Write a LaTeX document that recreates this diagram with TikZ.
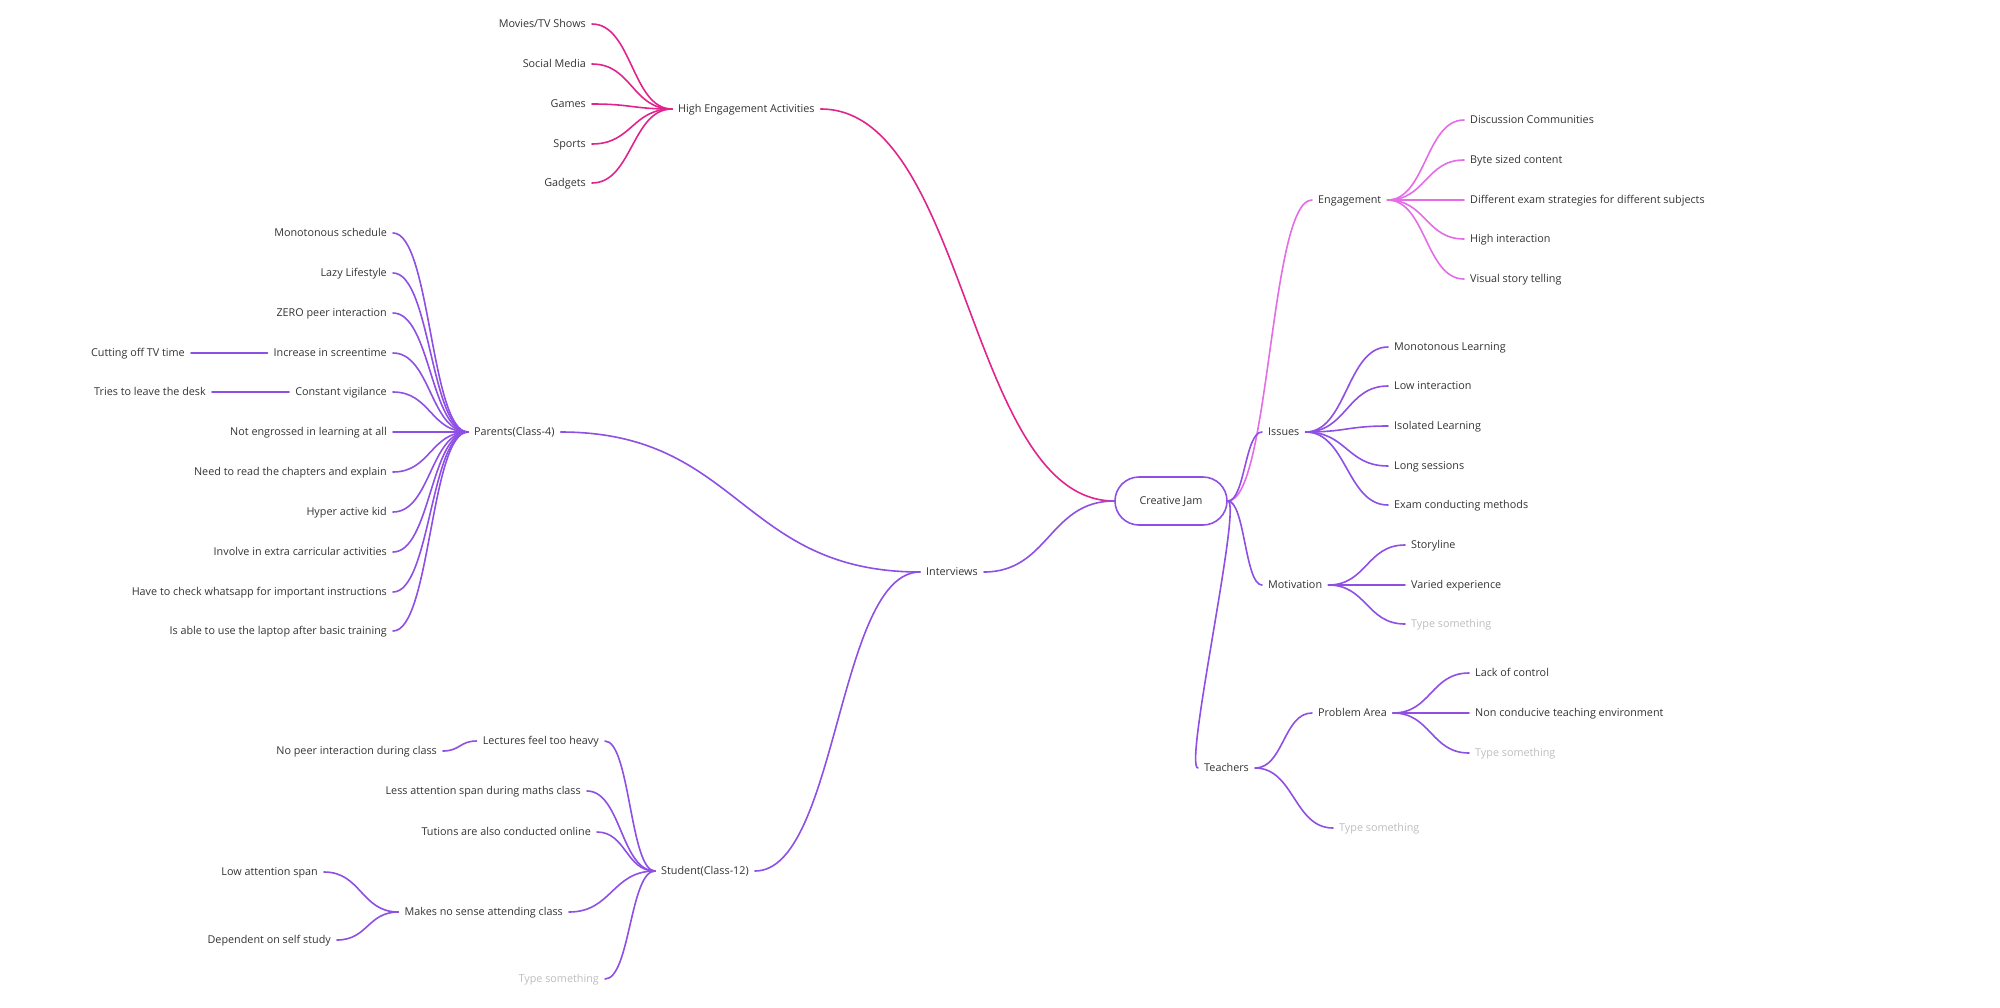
\documentclass[tikz,border=0pt]{standalone}
\usepackage{fontspec}
\setmainfont{Open Sans}
\usetikzlibrary{calc}
\definecolor{txtgrey}{HTML}{333333}
\definecolor{hintgrey}{HTML}{BDBDBD}
\definecolor{pinkl}{HTML}{E0248C}
\definecolor{orchidl}{HTML}{E46CE6}
\definecolor{violetl}{HTML}{8E4FE4}
\tikzset{
  lbl/.style={text=txtgrey,font=\fontsize{10.8}{12}\selectfont,inner xsep=6pt,inner ysep=2pt,text height=9pt,text depth=1.6pt},
  lleaf/.style={lbl,anchor=east},
  rleaf/.style={lbl,anchor=west},
  ghost/.style={text=hintgrey},
  br/.style={line width=1.6pt,line cap=round},
  rbr/.style={to path={let \p1=(\tikztostart),\p2=(\tikztotarget),\n1={abs(\x2-\x1)/2} in
    .. controls ({\x1+\n1*1pt},\y1) and ({\x2-\n1*1pt},\y2) .. (\tikztotarget)}},
  lbr/.style={to path={let \p1=(\tikztostart),\p2=(\tikztotarget),\n1={abs(\x2-\x1)/2} in
    .. controls ({\x1-\n1*1pt},\y1) and ({\x2+\n1*1pt},\y2) .. (\tikztotarget)}}
}
\begin{document}
\begin{tikzpicture}[x=1pt,y=-1pt]
	\useasboundingbox (0,0) rectangle (2000,1007);
	% centre
	\node[lbl,draw=violetl,line width=1.6pt,rounded corners=24pt,minimum width=112pt,minimum height=48pt] (jam) at (1171,501) {Creative Jam};
	% left side
	\node[lbl,anchor=west] (hea) at (672,109) {High Engagement Activities};
	\node[lleaf] (movies) at (592,24) {Movies/TV Shows};
	\node[lleaf] (social) at (592,64) {Social Media};
	\node[lleaf] (games) at (592,104) {Games};
	\node[lleaf] (sports) at (592,144) {Sports};
	\node[lleaf] (gadgets) at (592,183) {Gadgets};
	\node[lbl,anchor=west] (interviews) at (920,572) {Interviews};
	\node[lbl,anchor=west] (parents) at (468,432) {Parents(Class-4)};
	\node[lleaf] (p1) at (393,233) {Monotonous schedule};
	\node[lleaf] (p2) at (393,273) {Lazy Lifestyle};
	\node[lleaf] (p3) at (393,313) {ZERO peer interaction};
	\node[lleaf] (p4) at (393,353) {Increase in screentime};
	\node[lleaf] (p5) at (393,392) {Constant vigilance};
	\node[lleaf] (p6) at (393,432) {Not engrossed in learning at all};
	\node[lleaf] (p7) at (393,472) {Need to read the chapters and explain};
	\node[lleaf] (p8) at (393,512) {Hyper active kid};
	\node[lleaf] (p9) at (393,552) {Involve in extra carricular activities};
	\node[lleaf] (p10) at (393,592) {Have to check whatsapp for important instructions};
	\node[lleaf] (p11) at (393,631) {Is able to use the laptop after basic training};
	\node[lleaf] (tvtime) at (191,353) {Cutting off TV time};
	\node[lleaf] (desk) at (212,392) {Tries to leave the desk};
	\node[lbl,anchor=west] (student) at (655,871) {Student(Class-12)};
	\node[lleaf] (s1) at (605,741) {Lectures feel too heavy};
	\node[lleaf] (s2) at (587,791) {Less attention span during maths class};
	\node[lleaf] (s3) at (597,832) {Tutions are also conducted online};
	\node[lleaf] (s4) at (569,912) {Makes no sense attending class};
	\node[lleaf,ghost] (s5) at (605,979) {Type something};
	\node[lleaf] (nopeer) at (443,751) {No peer interaction during class};
	\node[lleaf] (lowspan) at (324,872) {Low attention span};
	\node[lleaf] (selfstudy) at (337,940) {Dependent on self study};
	% right side
	\node[rleaf] (engage) at (1312,200) {Engagement};
	\node[rleaf] (e1) at (1464,120) {Discussion Communities};
	\node[rleaf] (e2) at (1464,160) {Byte sized content};
	\node[rleaf] (e3) at (1464,200) {Different exam strategies for different subjects};
	\node[rleaf] (e4) at (1464,239) {High interaction};
	\node[rleaf] (e5) at (1464,279) {Visual story telling};
	\node[rleaf] (issues) at (1262,432) {Issues};
	\node[rleaf] (i1) at (1388,347) {Monotonous Learning};
	\node[rleaf] (i2) at (1388,386) {Low interaction};
	\node[rleaf] (i3) at (1388,426) {Isolated Learning};
	\node[rleaf] (i4) at (1388,466) {Long sessions};
	\node[rleaf] (i5) at (1388,505) {Exam conducting methods};
	\node[rleaf] (motiv) at (1262,585) {Motivation};
	\node[rleaf] (m1) at (1405,545) {Storyline};
	\node[rleaf] (m2) at (1405,585) {Varied experience};
	\node[rleaf,ghost] (m3) at (1405,624) {Type something};
	\node[rleaf] (teach) at (1198,768) {Teachers};
	\node[rleaf] (problem) at (1312,713) {Problem Area};
	\node[rleaf] (t1) at (1469,673) {Lack of control};
	\node[rleaf] (t2) at (1469,713) {Non conducive teaching environment};
	\node[rleaf,ghost] (t3) at (1469,753) {Type something};
	\node[rleaf,ghost] (t4) at (1333,828) {Type something};
	% connectors
	\draw[br,pinkl] (jam.west) to[lbr] (hea.east);
	\foreach \c in {movies,social,games,sports,gadgets}
		\draw[br,pinkl] (hea.west) to[lbr] (\c.east);
	\draw[br,violetl] (jam.west) to[lbr] (interviews.east);
	\draw[br,violetl] (interviews.west) to[lbr] (parents.east);
	\draw[br,violetl] (interviews.west) to[lbr] (student.east);
	\foreach \c in {p1,p2,p3,p4,p5,p6,p7,p8,p9,p10,p11}
		\draw[br,violetl] (parents.west) to[lbr] (\c.east);
	\draw[br,violetl] (p4.west) -- (tvtime.east);
	\draw[br,violetl] (p5.west) -- (desk.east);
	\foreach \c in {s1,s2,s3,s4,s5}
		\draw[br,violetl] (student.west) to[lbr] (\c.east);
	\draw[br,violetl] (s1.west) to[lbr] (nopeer.east);
	\draw[br,violetl] (s4.west) to[lbr] (lowspan.east);
	\draw[br,violetl] (s4.west) to[lbr] (selfstudy.east);
	\draw[br,orchidl] (jam.east) to[rbr] (engage.west);
	\foreach \c in {e1,e2,e3,e4,e5}
		\draw[br,orchidl] (engage.east) to[rbr] (\c.west);
	\draw[br,violetl] (jam.east) to[rbr] (issues.west);
	\draw[br,violetl] (jam.east) to[rbr] (motiv.west);
	\draw[br,violetl] (jam.east) to[rbr] (teach.west);
	\foreach \c in {i1,i2,i3,i4,i5}
		\draw[br,violetl] (issues.east) to[rbr] (\c.west);
	\foreach \c in {m1,m2,m3}
		\draw[br,violetl] (motiv.east) to[rbr] (\c.west);
	\draw[br,violetl] (teach.east) to[rbr] (problem.west);
	\draw[br,violetl] (teach.east) to[rbr] (t4.west);
	\foreach \c in {t1,t2,t3}
		\draw[br,violetl] (problem.east) to[rbr] (\c.west);
\end{tikzpicture}
\end{document}
